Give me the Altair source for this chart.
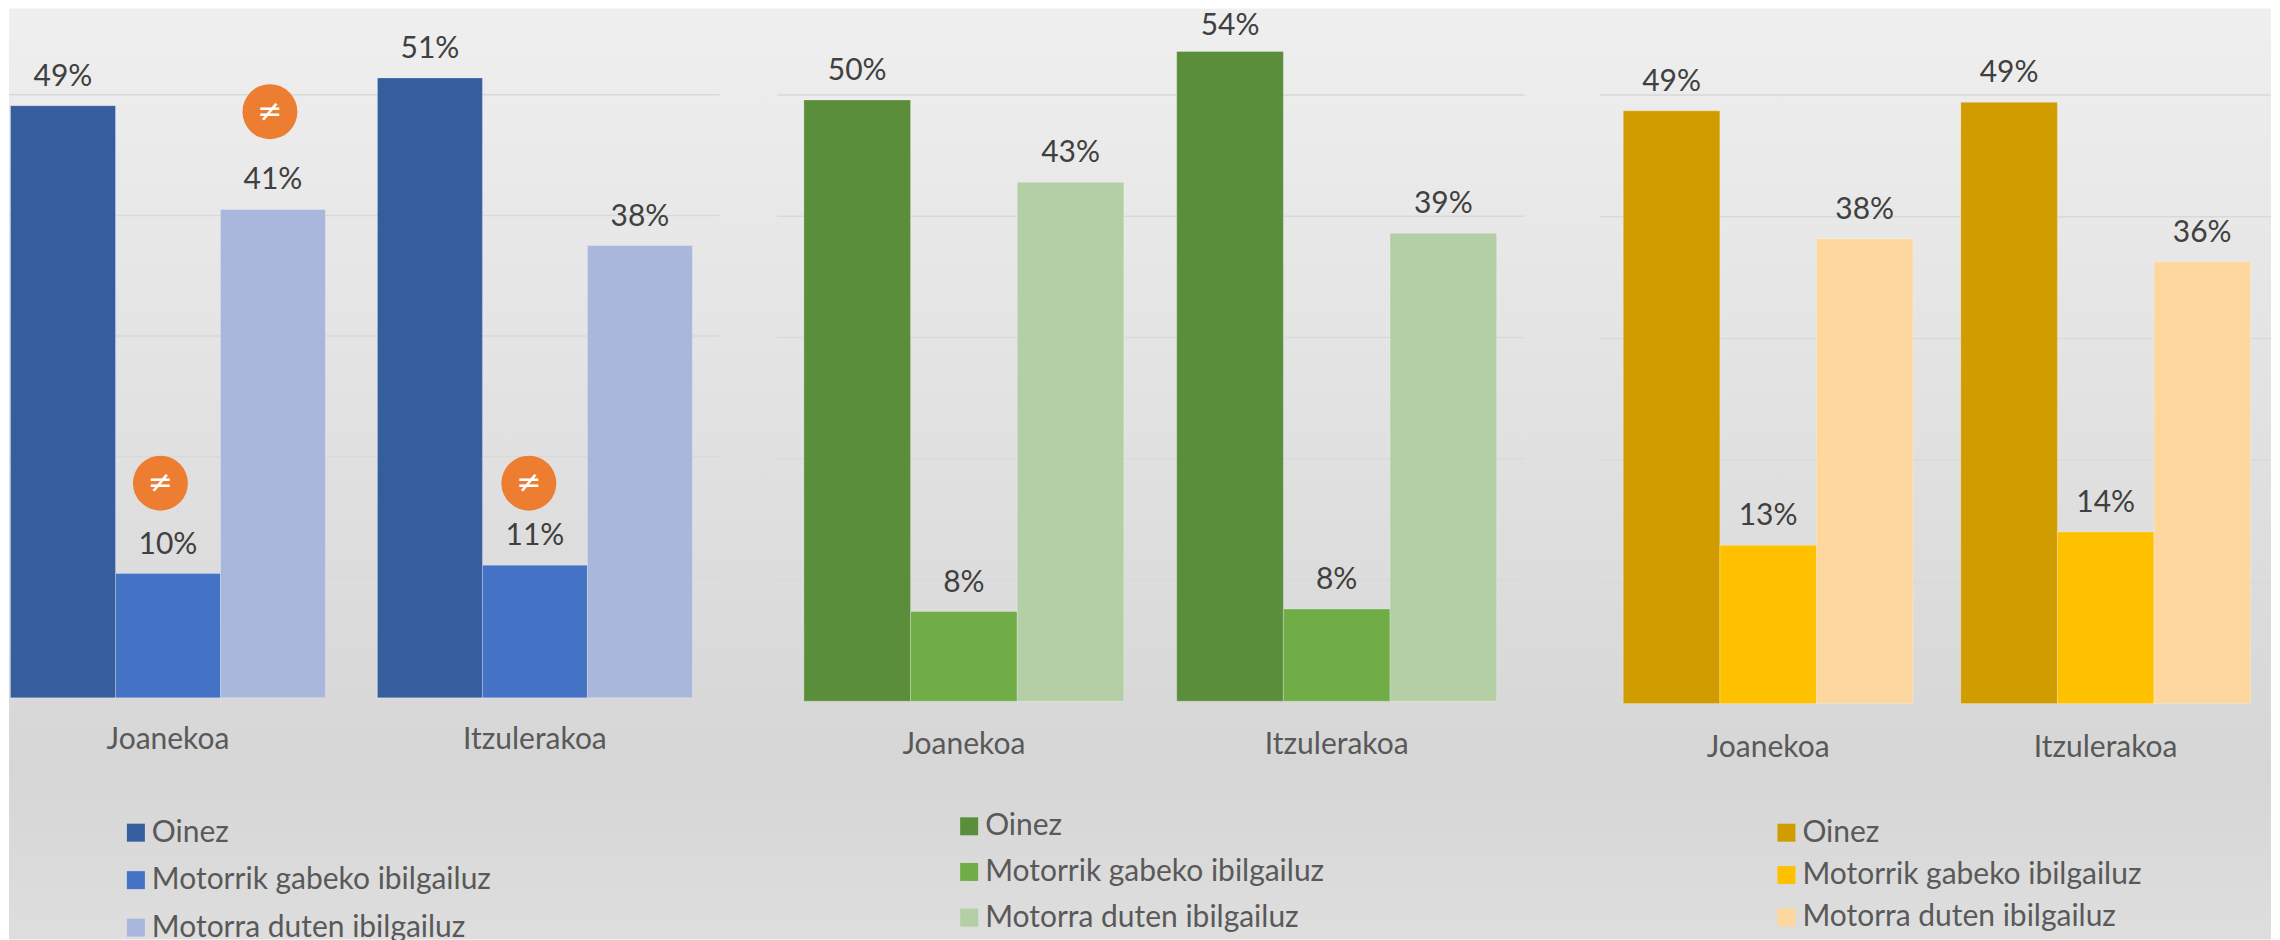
import altair as alt
import pandas as pd

categories = ["Joanekoa", "Itzulerakoa"]
series = ["Oinez", "Motorrik gabeko ibilgailuz", "Motorra duten ibilgailuz"]
grid_values = [0, 10, 20, 30, 40, 50]

values_1 = [49.1, 10.3, 40.5, 51.4, 11.0, 37.5]
values_2 = [49.6, 7.4, 42.8, 53.6, 7.6, 38.6]
values_3 = [48.7, 13.0, 38.2, 49.4, 14.1, 36.3]
labels_1 = ["49%", "10%", "41%", "51%", "11%", "38%"]
labels_2 = ["50%", "8%", "43%", "54%", "8%", "39%"]
labels_3 = ["49%", "13%", "38%", "49%", "14%", "36%"]
gaps_1 = [-29, -29, -29, -29, -29, -29]
gaps_2 = [-29, -29, -29, -25, -29, -29]
gaps_3 = [-29, -29, -29, -29, -29, -29]

colors_1 = ["#365E9F", "#4472C4", "#A8B7DB"]
colors_2 = ["#5B8E3A", "#70AD47", "#B4CEA6"]
colors_3 = ["#D09C00", "#FFC000", "#FED79E"]

badge_category = ["Joanekoa", "Itzulerakoa", "Joanekoa"]
badge_level = [17.8, 17.8, 48.6]
badge_band = [0.476, 0.4807, 0.8237]

FONT = "Lato"
H = 932
FS = 30
TOTAL_W = 2264


def panel(values, labels, gaps, colors, W, x_range, y_range, grid_x, axis_offset, axis_pad, legend_xy,
          row_pad, first=False):
    rows = [
        {"cat": c, "ser": s, "val": values[i * 3 + j], "lab": labels[i * 3 + j], "gap": gaps[i * 3 + j]}
        for i, c in enumerate(categories)
        for j, s in enumerate(series)
    ]
    df = pd.DataFrame(rows)
    y_scale = alt.Scale(domain=[0, 50], range=y_range, nice=False)
    x_scale = alt.Scale(domain=categories, range=x_range, paddingInner=0.1417, paddingOuter=0)
    off = alt.XOffset("ser:N", sort=series, scale=alt.Scale(domain=series, paddingInner=0, paddingOuter=0))
    x_axis = alt.Axis(
        title=None, orient="bottom", offset=axis_offset, domain=False, ticks=False,
        labelAngle=0, labelFont=FONT, labelFontSize=FS, labelColor="#595959",
        labelBaseline="middle", labelPadding=axis_pad, grid=False, zindex=1,
    )
    x_enc = alt.X("cat:N", sort=categories, scale=x_scale, axis=x_axis)

    grid = alt.Chart(pd.DataFrame({"g": grid_values})).mark_rule(
        color="#D9D9D9", strokeWidth=1.5
    ).encode(
        y=alt.Y("g:Q", scale=y_scale, axis=None),
        x=alt.value(grid_x[0]),
        x2=alt.value(grid_x[1]),
    )

    bars = alt.Chart(df).mark_bar(
        stroke="#FFFFFF", strokeOpacity=0.25, strokeWidth=1
    ).encode(
        x=x_enc,
        xOffset=off,
        y=alt.Y("val:Q", scale=y_scale, axis=None, stack=None),
        color=alt.Color(
            "ser:N",
            scale=alt.Scale(domain=series, range=colors),
            legend=alt.Legend(
                title=None, orient="none", legendX=legend_xy[0], legendY=legend_xy[1],
                symbolType="square", symbolSize=324, symbolStrokeWidth=0, labelFont=FONT,
                labelFontSize=FS, labelColor="#595959", labelLimit=0,
                rowPadding=row_pad, labelOffset=1, padding=0, direction="vertical",
            ),
        ),
    )

    layers = [grid, bars]
    for gap in sorted(set(gaps)):
        layers.append(
            alt.Chart(df[df["gap"] == gap]).mark_text(
                font=FONT, fontSize=FS, color="#404040", baseline="middle", dy=gap
            ).encode(x=x_enc, xOffset=off, y=alt.Y("val:Q", scale=y_scale, axis=None), text="lab:N")
        )

    if first:
        bg = alt.Chart(alt.Data(values=[{"a": 1}])).mark_rect(
            color=alt.LinearGradient(
                gradient="linear", x1=0, y1=0, x2=0, y2=1,
                stops=[
                    alt.GradientStop(offset=0, color="#EFEFEF"),
                    alt.GradientStop(offset=0.82, color="#D6D6D6"),
                    alt.GradientStop(offset=1, color="#DEDEDE"),
                ],
            )
        ).encode(x=alt.value(0), x2=alt.value(TOTAL_W), y=alt.value(0), y2=alt.value(H))
        layers.insert(0, bg)

        bd = pd.DataFrame(
            {"cat": badge_category, "lev": badge_level, "band": badge_band, "t": ["≠"] * len(badge_level)}
        )
        for i in range(len(badge_level)):
            one = bd.iloc[[i]]
            x_b = alt.X("cat:N", sort=categories, scale=x_scale, axis=x_axis, bandPosition=badge_band[i])
            layers.append(
                alt.Chart(one).mark_point(
                    shape="circle", filled=True, size=3025, opacity=1, color="#ED7D31"
                ).encode(x=x_b, y=alt.Y("lev:Q", scale=y_scale, axis=None))
            )
            layers.append(
                alt.Chart(one).mark_text(
                    font="DejaVu Sans", fontSize=30, color="#FFFFFF", baseline="middle"
                ).encode(x=x_b, y=alt.Y("lev:Q", scale=y_scale, axis=None), text="t:N")
            )

    return alt.layer(*layers).properties(width=W, height=H)


p1 = panel(values_1, labels_1, gaps_1, colors_1, 742, [1.5, 684], [690, 86.5], (0, 711), -242, 42, (112, 810), 17.5, first=True)
p2 = panel(values_2, labels_2, gaps_2, colors_2, 810, [53.6, 747], [693.4, 86.7], (27, 775), -238.6, 43.5, (204, 803.6), 15.7)
p3 = panel(values_3, labels_3, gaps_3, colors_3, 712, [63.7, 691.5], [695.8, 86.7], (40, 712), -236.2, 43.5, (212, 810), 12.4)

chart = (
    alt.hconcat(p1, p2, p3, spacing=0, bounds="flush")
    .resolve_scale(color="independent", x="independent", y="independent", xOffset="independent")
    .properties(padding=0)
    .configure_view(stroke=None)
)

chart.save("out.html", embed_options={"renderer": "svg", "actions": False})
